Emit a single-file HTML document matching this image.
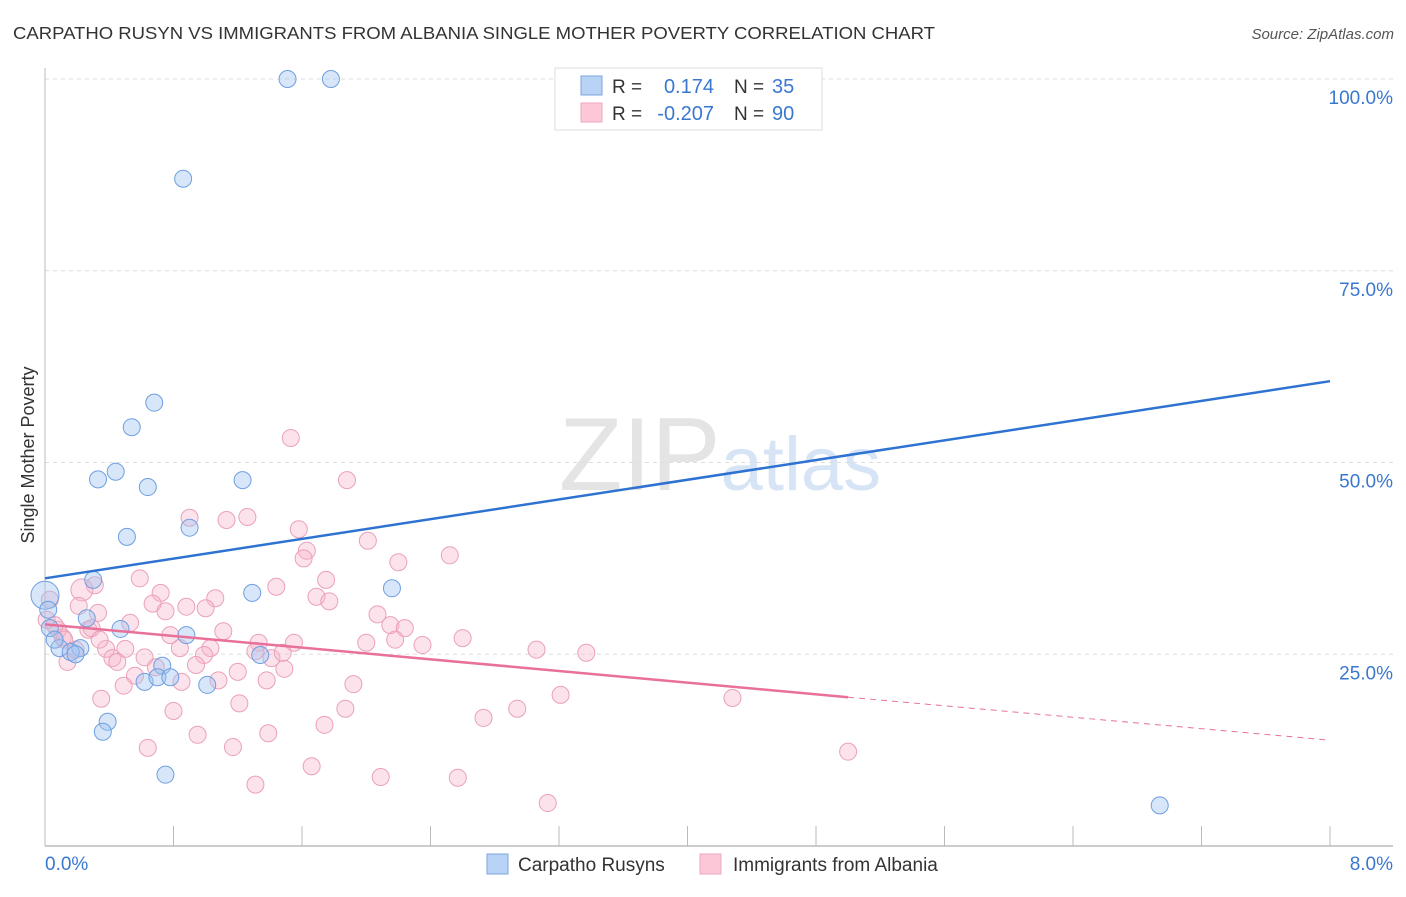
<!DOCTYPE html>
<html><head><meta charset="utf-8"><style>
body{margin:0;background:#fff;font-family:"Liberation Sans",sans-serif}
svg text{font-family:"Liberation Sans",sans-serif}
</style></head><body>
<svg id="chart" width="1406" height="892" xmlns="http://www.w3.org/2000/svg">
<text x="13" y="39" font-size="17.5" fill="#333" textLength="922" lengthAdjust="spacingAndGlyphs">CARPATHO RUSYN VS IMMIGRANTS FROM ALBANIA SINGLE MOTHER POVERTY CORRELATION CHART</text>
<text x="1394" y="39" font-size="15" fill="#555" font-style="italic" text-anchor="end">Source: ZipAtlas.com</text>
<text x="720" y="490" font-size="104" fill="#e4e4e4" text-anchor="middle" font-family="Liberation Serif">ZIP<tspan fill="#d6e4f5" font-family="Liberation Sans" font-size="76">atlas</tspan></text>
<g id="grid"></g>
<g id="axes"></g>
<g id="pts"></g>
<g id="lines"></g>
<text transform="translate(34,455) rotate(-90)" font-size="18" fill="#333" text-anchor="middle">Single Mother Poverty</text>
<g>
<rect x="555" y="68" width="267" height="62" fill="#fff" stroke="#ddd"/>
<rect x="581" y="76" width="21" height="19" fill="#b8d3f5" stroke="#7aa6e0"/>
<rect x="581" y="103" width="21" height="19" fill="#fcc8d8" stroke="#eea6bd"/>
<text x="612" y="93" font-size="19" fill="#333">R =</text>
<text x="714" y="93" font-size="20" fill="#3a78d0" text-anchor="end">0.174</text>
<text x="734" y="93" font-size="19" fill="#333">N =</text>
<text x="772" y="93" font-size="20" fill="#3a78d0">35</text>
<text x="612" y="120" font-size="19" fill="#333">R =</text>
<text x="714" y="120" font-size="20" fill="#3a78d0" text-anchor="end">-0.207</text>
<text x="734" y="120" font-size="19" fill="#333">N =</text>
<text x="772" y="120" font-size="20" fill="#3a78d0">90</text>
</g>
<g>
<rect x="487" y="854" width="21" height="20" fill="#b8d3f5" stroke="#7aa6e0"/>
<text x="518" y="871" font-size="19" fill="#333">Carpatho Rusyns</text>
<rect x="700" y="854" width="21" height="20" fill="#fcc8d8" stroke="#eea6bd"/>
<text x="733" y="871" font-size="19" fill="#333">Immigrants from Albania</text>
</g>
</svg>
<script>
const blueX=[1.51,1.78,4.53,0.86,0.68,0.54,0.44,0.33,0.64,1.23,0.90,0.51,0.30,2.16,1.29,0.00,0.26,0.47,0.88,0.09,0.22,0.16,0.19,1.34,0.73,0.62,0.70,0.78,1.01,0.39,0.36,0.75,6.94,0.03,0.02,0.06];
const blueY=[100,100,100,87.0,57.8,54.6,48.8,47.8,46.8,47.7,41.5,40.3,34.7,33.6,33.0,32.7,29.7,28.3,27.5,25.8,25.8,25.3,25.0,24.9,23.5,21.4,22.0,22.0,21.0,16.2,14.9,9.3,5.3,28.4,30.8,26.9];
const pinkX=[1.53,1.88,0.90,1.13,1.26,1.58,2.01,1.63,1.61,2.20,2.52,0.59,1.75,1.44,0.72,1.06,0.31,0.23,1.69,1.77,0.67,0.88,1.00,0.21,0.75,0.33,2.07,0.53,0.27,2.15,2.24,1.11,0.78,0.11,0.29,0.08,1.55,1.03,0.84,1.33,2.00,2.18,2.35,2.60,3.06,3.37,0.38,0.50,0.14,0.42,0.62,0.99,1.31,1.41,1.48,1.49,0.94,1.20,0.69,0.56,1.08,1.38,0.85,0.49,1.92,0.35,1.21,1.87,0.80,3.21,2.94,2.73,4.28,1.74,0.95,1.39,0.64,1.17,5.00,1.66,2.09,2.57,1.31,3.13,0.03,0.01,0.06,0.12,0.19,0.45,0.34];
const pinkY=[53.2,47.7,42.8,42.5,42.9,41.3,39.8,38.5,37.5,37.0,37.9,34.9,34.7,33.8,33.0,32.3,34.0,33.4,32.5,31.9,31.6,31.2,31.0,31.3,30.6,30.4,30.2,29.1,28.2,28.8,28.4,28.0,27.5,27.2,28.4,28.2,26.5,25.8,25.8,26.5,26.5,26.9,26.2,27.1,25.6,25.2,25.7,25.7,24.0,24.5,24.6,24.9,25.4,24.5,25.2,23.1,23.6,22.7,23.3,22.2,21.6,21.6,21.4,20.9,21.1,19.2,18.6,17.9,17.6,19.7,17.9,16.7,19.3,15.8,14.5,14.7,12.8,12.9,12.3,10.4,9.0,8.9,8.0,5.6,32.1,29.5,28.8,26.9,25.6,24.0,26.9];
const blueTrend=[34.9,60.6];
const pinkTrend=[28.9,19.4,13.8];
const pinkTrendX=[0,5.0,8];
const yTicks=[25,50,75,100];
const yTickLabels=["25.0%","50.0%","75.0%","100.0%"];
const xTicks=[0,0.8,1.6,2.4,3.2,4.0,4.8,5.6,6.4,7.2,8.0];
const NS="http://www.w3.org/2000/svg";
const X=v=>45+v/8*1285, Y=v=>846-v/100*767;
function mk(t,a,p){const e=document.createElementNS(NS,t);for(const k in a)e.setAttribute(k,a[k]);document.getElementById(p).appendChild(e);return e;}
yTicks.forEach((t,i)=>{
 const g=mk('line',{x1:45,x2:1393,y1:Y(t),y2:Y(t),stroke:'#ddd','stroke-dasharray':'4,4'},'grid');
 
 
 const l=mk('text',{x:1393,y:Y(t)+25,'font-size':19,fill:'#3a78d0','text-anchor':'end'},'axes');
 l.textContent=yTickLabels[i];
 
 
});
const ax=mk('line',{x1:45,x2:45,y1:68,y2:846,stroke:'#bbb'},'axes');


const bx=mk('line',{x1:45,x2:1393,y1:846,y2:846,stroke:'#bbb','stroke-width':1.5},'axes');


xTicks.forEach(t=>{const k=mk('line',{x1:X(t),x2:X(t),y1:826,y2:846,stroke:'#bbb'},'axes');
 
 });
const x0=mk('text',{x:45,y:870,'font-size':19,fill:'#3a78d0'},'axes');x0.textContent='0.0%';


const x8=mk('text',{x:1393,y:870,'font-size':19,fill:'#3a78d0','text-anchor':'end'},'axes');x8.textContent='8.0%';


pinkX.forEach((v,i)=>{const c=mk('circle',{cx:X(v),cy:Y(pinkY[i]),r:(i==17?11:8.5),fill:'rgba(248,182,203,0.38)',stroke:'#eba0b9','stroke-width':1},'pts');
 
 });
blueX.forEach((v,i)=>{const c=mk('circle',{cx:X(v),cy:Y(blueY[i]),r:(i==15?14:8.5),fill:'rgba(160,196,240,0.42)',stroke:'#6f9fe0','stroke-width':1},'pts');
 
 });
const b=mk('line',{x1:X(0),y1:Y(blueTrend[0]),x2:X(8),y2:Y(blueTrend[1]),stroke:'#2e72d2','stroke-width':2.5},'lines');


const p=mk('line',{x1:X(pinkTrendX[0]),y1:Y(pinkTrend[0]),x2:X(pinkTrendX[1]),y2:Y(pinkTrend[1]),stroke:'#e8709a','stroke-width':2.5},'lines');


const pd=mk('line',{x1:X(pinkTrendX[1]),y1:Y(pinkTrend[1]),x2:X(pinkTrendX[2]),y2:Y(pinkTrend[2]),stroke:'#e8709a','stroke-width':1,'stroke-dasharray':'6,5'},'lines');


</script>
</body></html>
